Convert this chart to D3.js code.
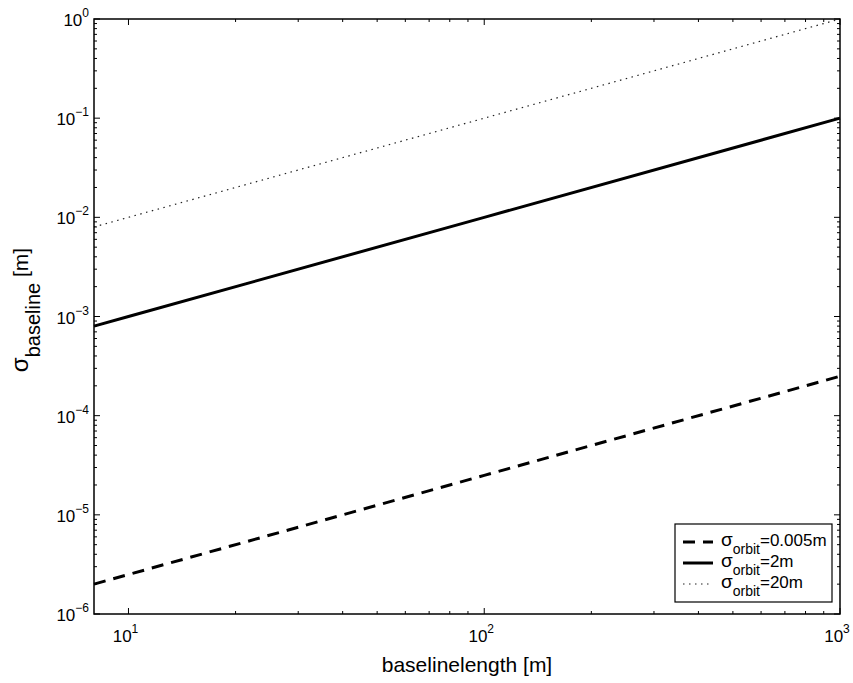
<!DOCTYPE html>
<html>
<head>
<meta charset="utf-8">
<script src="https://cdn.jsdelivr.net/npm/d3@7"></script>
<style>
  html, body { margin: 0; padding: 0; background: #fff; }
  svg { display: block; font-family: "Liberation Sans", Arial, Helvetica, sans-serif; }
</style>
</head>
<body>
<svg id="chart" width="853" height="683"></svg>
<script>
// Baseline length samples [m]
const baselineLength = [8, 10, 100, 1000];
// Baseline error [m] for each orbit error
const sigmaOrbit0005 = [2e-6, 2.5e-6, 2.5e-5, 2.5e-4];
const sigmaOrbit2 = [8e-4, 1e-3, 1e-2, 1e-1];
const sigmaOrbit20 = [8e-3, 1e-2, 1e-1, 1];
const seriesLabels = ["=0.005m", "=2m", "=20m"];
const xTickExps = [1, 2, 3];
const yTickExps = [0, -1, -2, -3, -4, -5, -6];

const series = [
  { label: seriesLabels[0], values: sigmaOrbit0005, width: 3, dash: "12,8", color: "#000" },
  { label: seriesLabels[1], values: sigmaOrbit2, width: 3, dash: null, color: "#000" },
  { label: seriesLabels[2], values: sigmaOrbit20, width: 1.2, dash: "1.5,4.5", color: "#222" }
];

const svg = d3.select("#chart");
const m = { left: 94, top: 19, right: 840, bottom: 614 };

const x = d3.scaleLog().domain([8, 1000]).range([m.left, m.right]);
const y = d3.scaleLog().domain([1e-6, 1]).range([m.bottom, m.top]);

// Lines
const line = d3.line().x(d => x(d[0])).y(d => y(d[1]));
const plot = svg.append("g");
series.forEach(s => {
  plot.append("path")
    .datum(baselineLength.map((b, i) => [b, s.values[i]]))
    .attr("d", line)
    .attr("fill", "none")
    .attr("stroke", s.color)
    .attr("stroke-width", s.width)
    .attr("stroke-dasharray", s.dash);
});

// Ticks (inward, on all four sides)
const minorX = [];
for (let e = 0; e <= 2; e++) for (let k = 1; k <= 9; k++) {
  const v = k * Math.pow(10, e + 1);
  if (v >= 8 && v <= 1000) minorX.push(v);
}
const minorY = [];
for (let e = -6; e < 0; e++) for (let k = 1; k <= 9; k++) minorY.push(k * Math.pow(10, e));

const ticks = svg.append("g").attr("stroke", "#000").attr("stroke-width", 1);
minorX.forEach(v => {
  const major = Math.abs(Math.log10(v) - Math.round(Math.log10(v))) < 1e-9;
  const len = major ? 6 : 3;
  const px = x(v);
  ticks.append("line").attr("x1", px).attr("x2", px).attr("y1", m.bottom).attr("y2", m.bottom - len);
  ticks.append("line").attr("x1", px).attr("x2", px).attr("y1", m.top).attr("y2", m.top + len);
});
minorY.concat([1]).forEach(v => {
  const major = Math.abs(Math.log10(v) - Math.round(Math.log10(v))) < 1e-9;
  const len = major ? 6 : 3;
  const py = y(v);
  ticks.append("line").attr("x1", m.left).attr("x2", m.left + len).attr("y1", py).attr("y2", py);
  ticks.append("line").attr("x1", m.right).attr("x2", m.right - len).attr("y1", py).attr("y2", py);
});

// Frame
svg.append("rect")
  .attr("x", m.left).attr("y", m.top)
  .attr("width", m.right - m.left).attr("height", m.bottom - m.top)
  .attr("fill", "none").attr("stroke", "#000").attr("stroke-width", 1.5);

// Tick labels
function powLabel(g, e) {
  g.append("tspan").text("10");
  g.append("tspan").attr("dy", -9).attr("font-size", 12).text(e < 0 ? "\u2212" + (-e) : String(e));
}
xTickExps.forEach(e => {
  const t = svg.append("text")
    .attr("x", x(Math.pow(10, e)) - 3).attr("y", 642)
    .attr("text-anchor", "middle").attr("font-size", 17).attr("fill", "#000");
  powLabel(t, e);
});
yTickExps.forEach(e => {
  const t = svg.append("text")
    .attr("x", 89).attr("y", y(Math.pow(10, e)) + 7)
    .attr("text-anchor", "end").attr("font-size", 17).attr("fill", "#000");
  powLabel(t, e);
});

// Axis titles
svg.append("text")
  .attr("x", 467).attr("y", 672)
  .attr("text-anchor", "middle").attr("font-size", 21).attr("fill", "#000")
  .text("baselinelength [m]");

const yl = svg.append("text")
  .attr("transform", "translate(28,310) rotate(-90)")
  .attr("text-anchor", "middle").attr("font-size", 21).attr("fill", "#000");
yl.append("tspan").attr("font-size", 24).text("\u03c3");
yl.append("tspan").attr("dy", 12).attr("font-size", 20).text("baseline");
yl.append("tspan").attr("dy", -12).text(" [m]");

// Legend
const lg = svg.append("g");
lg.append("rect")
  .attr("x", 675).attr("y", 524).attr("width", 157).attr("height", 78)
  .attr("fill", "#fff").attr("stroke", "#000").attr("stroke-width", 1.2);
const rowY = [542, 563, 584];
series.forEach((s, i) => {
  lg.append("line")
    .attr("x1", 683).attr("x2", 713).attr("y1", rowY[i]).attr("y2", rowY[i])
    .attr("stroke", s.color).attr("stroke-width", s.width)
    .attr("stroke-dasharray", s.dash);
  const t = lg.append("text")
    .attr("x", 721).attr("y", rowY[i] + 4)
    .attr("font-size", 17).attr("fill", "#000");
  t.append("tspan").attr("font-size", 19).text("\u03c3");
  t.append("tspan").attr("dy", 8).attr("font-size", 14).text("orbit");
  t.append("tspan").attr("dy", -8).text(s.label);
});
</script>
</body>
</html>
